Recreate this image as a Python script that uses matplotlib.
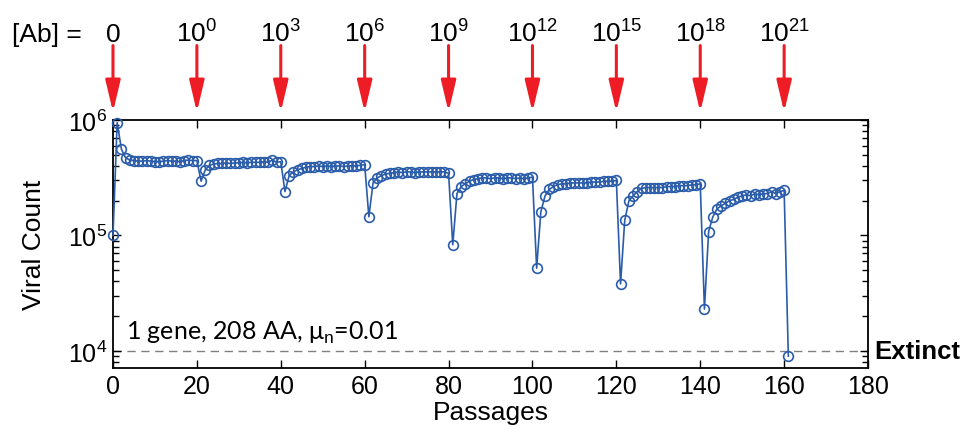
import numpy as np
import matplotlib
matplotlib.use("Agg")
import matplotlib.pyplot as plt
from matplotlib import transforms

plt.rcParams['font.family'] = ['Liberation Sans', 'DejaVu Sans']
plt.rcParams['mathtext.fontset'] = 'custom'
plt.rcParams['mathtext.rm'] = 'Liberation Sans'
plt.rcParams['mathtext.it'] = 'Liberation Sans:italic'

# --- data: viral count per passage, one list per antibody step ---
seg0 = [1.0e5, 9.5e5, 5.6e5, 4.7e5, 4.5e5, 4.45e5, 4.4e5, 4.4e5, 4.45e5, 4.4e5,
        4.35e5, 4.35e5, 4.4e5, 4.45e5, 4.4e5, 4.4e5, 4.35e5, 4.45e5, 4.5e5, 4.45e5, 4.45e5]
seg1 = [2.95e5, 3.7e5, 4.05e5, 4.15e5, 4.2e5, 4.2e5, 4.25e5, 4.2e5, 4.25e5, 4.25e5,
        4.3e5, 4.25e5, 4.3e5, 4.3e5, 4.3e5, 4.35e5, 4.3e5, 4.5e5, 4.3e5, 4.35e5]
seg2 = [2.4e5, 3.3e5, 3.55e5, 3.7e5, 3.8e5, 3.9e5, 3.95e5, 3.95e5, 4.0e5, 3.95e5,
        4.0e5, 3.95e5, 4.0e5, 4.0e5, 3.95e5, 4.0e5, 4.0e5, 4.0e5, 4.05e5, 4.1e5]
seg3 = [1.45e5, 2.85e5, 3.15e5, 3.3e5, 3.4e5, 3.45e5, 3.5e5, 3.55e5, 3.5e5, 3.55e5,
        3.55e5, 3.5e5, 3.55e5, 3.55e5, 3.55e5, 3.55e5, 3.55e5, 3.55e5, 3.55e5, 3.45e5]
seg4 = [8.3e4, 2.3e5, 2.65e5, 2.8e5, 2.95e5, 3.05e5, 3.1e5, 3.15e5, 3.15e5, 3.1e5,
        3.15e5, 3.15e5, 3.1e5, 3.15e5, 3.15e5, 3.1e5, 3.15e5, 3.1e5, 3.15e5, 3.2e5]
seg5 = [5.2e4, 1.6e5, 2.2e5, 2.5e5, 2.65e5, 2.75e5, 2.8e5, 2.8e5, 2.85e5, 2.85e5,
        2.85e5, 2.85e5, 2.85e5, 2.9e5, 2.9e5, 2.9e5, 2.95e5, 2.95e5, 2.95e5, 3.0e5]
seg6 = [3.8e4, 1.35e5, 2.0e5, 2.2e5, 2.4e5, 2.55e5, 2.6e5, 2.6e5, 2.6e5, 2.6e5,
        2.6e5, 2.65e5, 2.65e5, 2.65e5, 2.7e5, 2.7e5, 2.7e5, 2.75e5, 2.75e5, 2.8e5]
seg7 = [2.3e4, 1.08e5, 1.45e5, 1.7e5, 1.8e5, 1.9e5, 2.0e5, 2.05e5, 2.15e5, 2.2e5,
        2.25e5, 2.2e5, 2.3e5, 2.25e5, 2.3e5, 2.3e5, 2.4e5, 2.3e5, 2.4e5, 2.45e5, 9.0e3]

counts = seg0 + seg1 + seg2 + seg3 + seg4 + seg5 + seg6 + seg7
passages = list(range(len(counts)))

dose_passages = [0, 20, 40, 60, 80, 100, 120, 140, 160]
dose_labels = ['0', '$10^{0}$', '$10^{3}$', '$10^{6}$', '$10^{9}$',
               '$10^{12}$', '$10^{15}$', '$10^{18}$', '$10^{21}$']
extinct_level = 1e4

blue = '#2a5caa'
red = '#ee1c25'

fig = plt.figure(figsize=(9.69, 4.31), dpi=100)
ax = fig.add_axes([0.1166, 0.1439, 0.7792, 0.5754])

ax.plot(passages, counts, '-o', color=blue, lw=1.2, ms=7, mfc='none', mec=blue, mew=1.2,
        clip_on=False, zorder=3)
ax.axhline(extinct_level, color='gray', lw=1, ls=(0, (6, 4)), zorder=1)

ax.set_yscale('log')
ax.set_xlim(0, 180)
ax.set_ylim(7100, 1e6)
ax.set_xticks(range(0, 181, 20))
ax.set_yticks([1e4, 1e5, 1e6])
ax.tick_params(which='both', direction='in', top=True, right=True, labelsize=18, pad=4)
ax.tick_params(which='major', length=6, width=1)
ax.tick_params(which='minor', length=4, width=1)
ax.tick_params(axis='x', which='minor', bottom=False, top=False)
for s in ax.spines.values():
    s.set_linewidth(1.3)

ax.set_xlabel('Passages', fontsize=19, labelpad=2)
ax.set_ylabel('Viral Count', fontsize=19, labelpad=16)

ax.text(3, 1.12e4, '1 gene, 208 AA, μ$_\\mathrm{n}$=0.01', fontsize=18,
        family=['Lato', 'DejaVu Sans'], va='bottom', ha='left')
ax.text(181.5, extinct_level, 'Extinct', fontsize=18.5, fontweight='bold',
        va='center', ha='left', clip_on=False)

# --- antibody arrows above the axes ---
trans = transforms.blended_transform_factory(ax.transData, ax.transAxes)
for xp, lab in zip(dose_passages, dose_labels):
    ax.annotate('', xy=(xp, 1.032), xycoords=trans, xytext=(xp, 1.30), textcoords=trans,
                arrowprops=dict(arrowstyle='-|>,head_length=1.9,head_width=0.45',
                                mutation_scale=10, lw=2.2, color=red,
                                shrinkA=0, shrinkB=0))
    ax.text(xp, 1.318, lab, transform=trans, fontsize=19, ha='center', va='baseline')
ax.text(-7.5, 1.318, '[Ab] =', transform=trans, fontsize=19, ha='right', va='baseline')

fig.savefig('out.png', dpi=100, facecolor='white')
